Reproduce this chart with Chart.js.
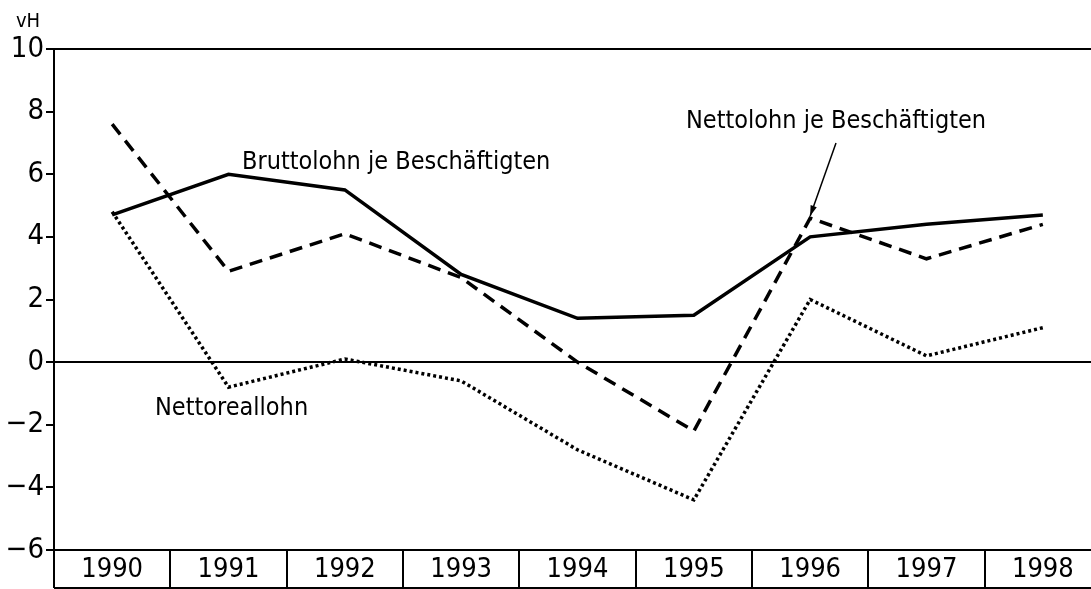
<!DOCTYPE html>
<html>
<head>
<meta charset="utf-8">
<script src="https://cdn.jsdelivr.net/npm/chart.js@4"></script>
<style>
    html, body { margin: 0; padding: 0; background: #fff; overflow: hidden; }
    #wrap { width: 1101px; height: 589px; }
</style>
</head>
<body>
<div id="wrap"><canvas id="line-chart"></canvas></div>
<script>
/* data */
const years = ["1990", "1991", "1992", "1993", "1994", "1995", "1996", "1997", "1998"];
const brutto = [4.7, 6.0, 5.5, 2.8, 1.4, 1.5, 4.0, 4.4, 4.7];      // Bruttolohn je Beschäftigten
const netto = [7.6, 2.9, 4.1, 2.7, 0.0, -2.2, 4.6, 3.3, 4.4];      // Nettolohn je Beschäftigten
const nettoreal = [4.8, -0.8, 0.1, -0.6, -2.8, -4.4, 2.0, 0.2, 1.1]; // Nettoreallohn
const yTicks = [-6, -4, -2, 0, 2, 4, 6, 8, 10];

const FONT = "'DejaVu Sans Condensed', sans-serif";

// labels, arrow and frame lines
const extras = {
    id: "extras",
    afterDraw(chart) {
        const ctx = chart.ctx;
        const x = chart.scales.x;
        const y = chart.scales.y;
        const area = chart.chartArea;
        ctx.save();
        ctx.fillStyle = "#000";
        ctx.strokeStyle = "#000";
        ctx.font = "25px " + FONT;
        ctx.textBaseline = "middle";
        ctx.textAlign = "left";
        ctx.fillText("Bruttolohn je Beschäftigten", 242, 162);
        ctx.fillText("Nettolohn je Beschäftigten", 686, 121);
        ctx.fillText("Nettoreallohn", 155, 408);
        ctx.font = "20px " + FONT;
        ctx.textAlign = "center";
        ctx.fillText("vH", 28, 22);

        // arrow to the 1996 Nettolohn point
        const tx = x.getPixelForValue(6);
        const ty = y.getPixelForValue(netto[6]);
        ctx.lineWidth = 1.5;
        ctx.beginPath();
        ctx.moveTo(836, 143);
        ctx.lineTo(tx, ty - 2);
        ctx.stroke();
        const ang = Math.atan2(ty - 2 - 143, tx - 836);
        ctx.beginPath();
        ctx.moveTo(tx, ty - 2);
        ctx.lineTo(tx - 11 * Math.cos(ang - 0.3), ty - 2 - 11 * Math.sin(ang - 0.3));
        ctx.lineTo(tx - 11 * Math.cos(ang + 0.3), ty - 2 - 11 * Math.sin(ang + 0.3));
        ctx.closePath();
        ctx.fill();

        // bottom line of the year boxes
        ctx.lineWidth = 2;
        ctx.beginPath();
        ctx.moveTo(area.left, chart.height - 1);
        ctx.lineTo(area.right, chart.height - 1);
        ctx.stroke();
        ctx.restore();
    }
};

new Chart(document.getElementById("line-chart"), {
    type: "line",
    data: {
        labels: years,
        datasets: [{
            label: "Bruttolohn je Beschäftigten",
            data: brutto,
            borderColor: "#000",
            borderWidth: 3.5,
            pointRadius: 0,
            tension: 0
        }, {
            label: "Nettolohn je Beschäftigten",
            data: netto,
            borderColor: "#000",
            borderWidth: 3.5,
            borderDash: [13, 8],
            pointRadius: 0,
            tension: 0
        }, {
            label: "Nettoreallohn",
            data: nettoreal,
            borderColor: "#000",
            borderWidth: 3.5,
            borderDash: [3, 3],
            pointRadius: 0,
            tension: 0
        }]
    },
    options: {
        responsive: true,
        maintainAspectRatio: false,
        animation: false,
        layout: { padding: { top: 49, right: 0, bottom: 1, left: 0 } },
        plugins: {
            legend: { display: false },
            tooltip: { enabled: false }
        },
        scales: {
            x: {
                offset: true,
                afterFit: (s) => { s.height = 38; },
                border: { display: true, color: "#000", width: 2 },
                grid: {
                    offset: true,
                    drawOnChartArea: false,
                    drawTicks: true,
                    tickLength: 38,
                    tickColor: "#000",
                    lineWidth: 2,
                    color: "#000"
                },
                ticks: {
                    color: "#000",
                    padding: -34,
                    maxRotation: 0,
                    font: { family: FONT, size: 27 }
                }
            },
            y: {
                min: -6,
                max: 10,
                afterFit: (s) => { s.width = 54; },
                afterBuildTicks: (s) => { s.ticks = yTicks.map(v => ({ value: v })); },
                border: { display: true, color: "#000", width: 2 },
                grid: {
                    drawTicks: true,
                    tickLength: 8,
                    tickColor: "#000",
                    lineWidth: 2,
                    color: (c) => (c.tick && (c.tick.value === 0 || c.tick.value === 10)) ? "#000" : "rgba(0,0,0,0)"
                },
                ticks: {
                    color: "#000",
                    padding: 2,
                    font: { family: FONT, size: 29 },
                    callback: (v) => v < 0 ? "\u2212" + Math.abs(v) : String(v)
                }
            }
        }
    },
    plugins: [extras]
});
</script>
</body>
</html>
